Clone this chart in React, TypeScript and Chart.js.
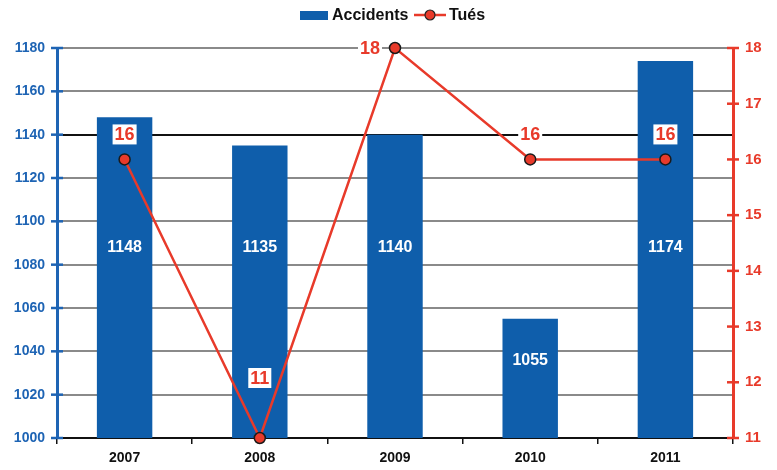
import { useEffect, useRef } from "react";
import { Chart, registerables } from "chart.js";

Chart.register(...registerables);

const years = ["2007", "2008", "2009", "2010", "2011"];
const accidents = [1148, 1135, 1140, 1055, 1174];
const tues = [16, 11, 18, 16, 16];
const leftMin = 1000;
const leftMax = 1180;
const leftStep = 20;
const rightMin = 11;
const rightMax = 18;
const rightStep = 1;
const seriesNames = ["Accidents", "Tués"];

const BLUE = "#0f5eab";
const BLUE_T = "#1e64b4";
const RED = "#e83a2a";
const FONT = "'Liberation Sans', Arial, sans-serif";

const labelsPlugin = {
  id: "labelsPlugin",
  afterDatasetsDraw(chart: any) {
    const ctx = chart.ctx;
    const ys = chart.scales.y;
    ctx.save();
    // bar value labels
    const barMeta = chart.getDatasetMeta(1);
    ctx.font = `bold 16px ${FONT}`;
    ctx.fillStyle = "#ffffff";
    ctx.textAlign = "center";
    ctx.textBaseline = "middle";
    barMeta.data.forEach((el: any, i: number) => {
      const v = accidents[i];
      const lv = Math.min(1088, leftMin + 0.65 * (v - leftMin));
      ctx.fillText(String(v), el.x, ys.getPixelForValue(lv));
    });
    // line labels
    const lineMeta = chart.getDatasetMeta(0);
    const mx = Math.max(...tues);
    const mn = Math.min(...tues);
    ctx.font = `bold 18px ${FONT}`;
    lineMeta.data.forEach((el: any, i: number) => {
      const v = tues[i];
      const t = String(v);
      let cx = el.x;
      let cy = el.y - 25;
      if (v === mx) {
        cx = el.x - 25;
        cy = el.y;
      } else if (v === mn) {
        cy = el.y - 60;
      }
      const w = ctx.measureText(t).width + 4;
      ctx.fillStyle = "#ffffff";
      ctx.fillRect(cx - w / 2, cy - 10, w, 20);
      ctx.fillStyle = RED;
      ctx.fillText(t, cx, cy + 1);
    });
    ctx.restore();
  },
  afterDraw(chart: any) {
    const ctx = chart.ctx;
    const { left, right } = chart.chartArea;
    ctx.save();
    // crossing ticks on y axes
    const ys = chart.scales.y;
    ctx.strokeStyle = BLUE_T;
    ctx.lineWidth = 2.5;
    ys.ticks.forEach((_t: any, i: number) => {
      const y = ys.getPixelForTick(i);
      ctx.beginPath();
      ctx.moveTo(left - 6, y);
      ctx.lineTo(left + 6, y);
      ctx.stroke();
    });
    const y1 = chart.scales.y1;
    ctx.strokeStyle = RED;
    y1.ticks.forEach((_t: any, i: number) => {
      const y = y1.getPixelForTick(i);
      ctx.beginPath();
      ctx.moveTo(right - 6, y);
      ctx.lineTo(right + 6, y);
      ctx.stroke();
    });
    // legend
    ctx.fillStyle = BLUE;
    ctx.fillRect(300, 11, 28, 9);
    ctx.font = `bold 16px ${FONT}`;
    ctx.fillStyle = "#111";
    ctx.textAlign = "left";
    ctx.textBaseline = "middle";
    ctx.fillText(seriesNames[0], 332, 16);
    ctx.strokeStyle = RED;
    ctx.lineWidth = 2.5;
    ctx.beginPath();
    ctx.moveTo(414, 15);
    ctx.lineTo(446, 15);
    ctx.stroke();
    ctx.beginPath();
    ctx.arc(430, 15, 5, 0, Math.PI * 2);
    ctx.fillStyle = RED;
    ctx.fill();
    ctx.lineWidth = 1.2;
    ctx.strokeStyle = "#222";
    ctx.stroke();
    ctx.fillStyle = "#111";
    ctx.fillText(seriesNames[1], 449, 16);
    ctx.restore();
  },
};

export default function App() {
  const ref = useRef<HTMLCanvasElement | null>(null);
  useEffect(() => {
    document.body.style.margin = "0";
    const chart = new Chart(ref.current as HTMLCanvasElement, {
      type: "bar",
      data: {
        labels: years,
        datasets: [
          {
            type: "line",
            label: seriesNames[1],
            data: tues,
            yAxisID: "y1",
            borderColor: RED,
            borderWidth: 2.5,
            pointRadius: 5.5,
            pointBackgroundColor: RED,
            pointBorderColor: "#1a1a1a",
            pointBorderWidth: 1.5,
            tension: 0,
            clip: false,
            order: 0,
          } as any,
          {
            type: "bar",
            label: seriesNames[0],
            data: accidents,
            yAxisID: "y",
            backgroundColor: BLUE,
            barPercentage: 0.41,
            categoryPercentage: 1,
            order: 1,
          },
        ],
      },
      options: {
        animation: false,
        responsive: true,
        maintainAspectRatio: false,
        layout: { padding: { top: 48, left: 0, right: 0, bottom: 0 } },
        plugins: {
          legend: { display: false },
          tooltip: { enabled: false },
        },
        scales: {
          x: {
            offset: true,
            grid: {
              offset: true,
              drawOnChartArea: false,
              color: "#111",
              tickLength: 6,
              lineWidth: 1.5,
            },
            border: { color: "#111", width: 2 },
            ticks: {
              color: "#111",
              font: { family: FONT, weight: "bold", size: 14 },
              padding: 6,
            },
            afterFit: (s: any) => {
              s.height = 32;
            },
          },
          y: {
            position: "left",
            min: leftMin,
            max: leftMax,
            ticks: {
              stepSize: leftStep,
              color: BLUE_T,
              font: { family: FONT, weight: "bold", size: 14 },
              padding: 12,
              callback: (v: any) => String(v),
            },
            grid: {
              drawTicks: false,
              color: (c: any) => (c.tick && c.tick.value === 1140 ? "#111" : "#8a8a8a"),
              lineWidth: 2,
            },
            border: { color: BLUE_T, width: 3 },
            afterFit: (s: any) => {
              s.width = 57;
            },
          },
          y1: {
            position: "right",
            min: rightMin,
            max: rightMax,
            ticks: {
              stepSize: rightStep,
              color: RED,
              font: { family: FONT, weight: "bold", size: 15 },
              padding: 12,
              callback: (v: any) => String(v),
            },
            grid: { drawOnChartArea: false, drawTicks: false },
            border: { color: RED, width: 3 },
            afterFit: (s: any) => {
              s.width = 44;
            },
          },
        },
      } as any,
      plugins: [labelsPlugin],
    });
    return () => chart.destroy();
  }, []);
  return (
    <div style={{ width: 777, height: 470, position: "relative" }}>
      <canvas ref={ref} />
    </div>
  );
}
